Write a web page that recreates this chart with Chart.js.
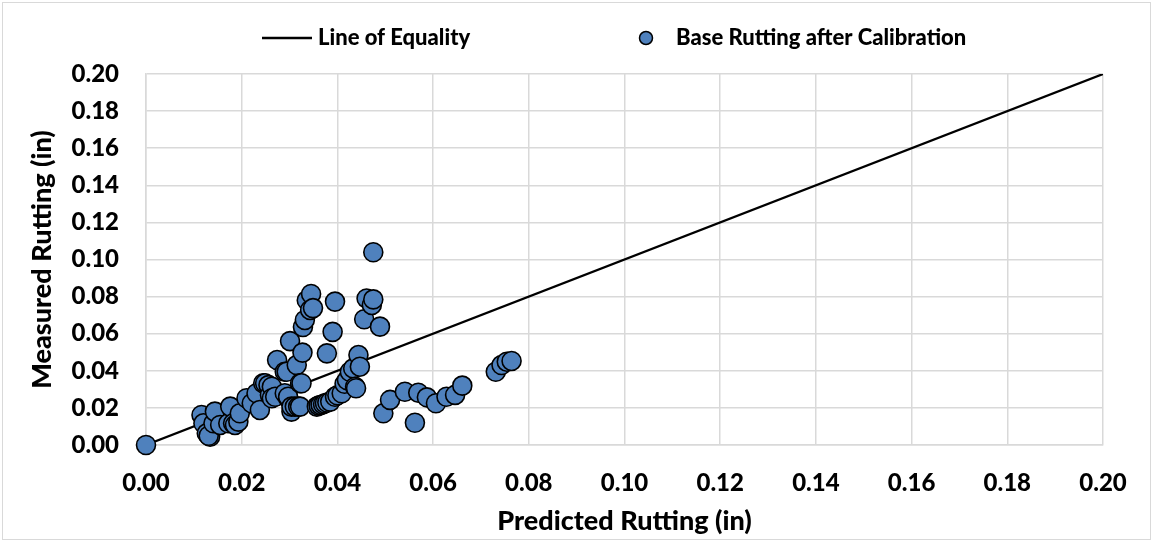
<!DOCTYPE html>
<html>
<head>
<meta charset="utf-8">
<script src="https://cdn.jsdelivr.net/npm/chart.js@4.4.1/dist/chart.umd.min.js"></script>
<style>
  html, body { margin: 0; padding: 0; background: #fff; }
  #wrap { width: 1153px; height: 541px; position: relative; }
</style>
</head>
<body>
<div id="wrap"><canvas id="ruttingChart"></canvas></div>
<script>
// Predicted vs measured base rutting (in)
const predicted = [
  0.0000, 0.0116, 0.0120, 0.0127, 0.0134, 0.0131, 0.0141, 0.0144, 0.0155, 0.0172,
  0.0176, 0.0182, 0.0186, 0.0193, 0.0196, 0.0210, 0.0221, 0.0231, 0.0238, 0.0245,
  0.0249, 0.0256, 0.0259, 0.0263, 0.0263, 0.0270, 0.0274, 0.0290, 0.0290, 0.0294,
  0.0297, 0.0297, 0.0301, 0.0304, 0.0304, 0.0311, 0.0315, 0.0318, 0.0322, 0.0322,
  0.0325, 0.0327, 0.0328, 0.0332, 0.0336, 0.0343, 0.0345, 0.0349, 0.0357, 0.0361,
  0.0365, 0.0370, 0.0374, 0.0379, 0.0378, 0.0385, 0.0390, 0.0395, 0.0395, 0.0400,
  0.0409, 0.0415, 0.0420, 0.0426, 0.0433, 0.0437, 0.0439, 0.0444, 0.0447, 0.0456,
  0.0461, 0.0472, 0.0475, 0.0475, 0.0489, 0.0496, 0.0510, 0.0541, 0.0562, 0.0569,
  0.0587, 0.0606, 0.0628, 0.0646, 0.0661, 0.0731, 0.0743, 0.0754, 0.0764,
];
const measured = [
  0.0000, 0.0162, 0.0117, 0.0063, 0.0045, 0.0050, 0.0117, 0.0180, 0.0108, 0.0117,
  0.0207, 0.0117, 0.0108, 0.0126, 0.0171, 0.0252, 0.0225, 0.0279, 0.0189, 0.0333,
  0.0333, 0.0323, 0.0270, 0.0314, 0.0252, 0.0260, 0.0458, 0.0279, 0.0395, 0.0395,
  0.0252, 0.0260, 0.0560, 0.0180, 0.0207, 0.0207, 0.0431, 0.0207, 0.0207, 0.0333,
  0.0333, 0.0498, 0.0636, 0.0674, 0.0780, 0.0728, 0.0814, 0.0738, 0.0207, 0.0212,
  0.0216, 0.0220, 0.0225, 0.0229, 0.0494, 0.0234, 0.0610, 0.0773, 0.0260, 0.0268,
  0.0279, 0.0330, 0.0350, 0.0395, 0.0413, 0.0314, 0.0306, 0.0485, 0.0422, 0.0678,
  0.0790, 0.0755, 0.0785, 0.1039, 0.0638, 0.0171, 0.0243, 0.0287, 0.0120, 0.0282,
  0.0257, 0.0225, 0.0260, 0.0270, 0.0320, 0.0395, 0.0431, 0.0449, 0.0453,
];
const equalityLine = [0, 0.2];
const axisTicks = [0, 0.02, 0.04, 0.06, 0.08, 0.10, 0.12, 0.14, 0.16, 0.18, 0.20];

const FONT = "Lato, 'Open Sans', sans-serif";
const WEIGHT = "900";
const BLUE = "#4f81bd";
const GRID = "#d9d9d9";

const scatterPoints = predicted.map((p, i) => ({ x: p, y: measured[i] }));
const linePoints = equalityLine.map((v) => ({ x: v, y: v }));

// legend row + chart frame
const legendAndFrame = {
  id: "legendAndFrame",
  afterDraw(chart) {
    const ctx = chart.ctx;
    ctx.save();
    ctx.strokeStyle = GRID;
    ctx.lineWidth = 1;
    ctx.strokeRect(2.5, 2.5, chart.width - 5, chart.height - 4);

    const y = 38;
    ctx.strokeStyle = "#000";
    ctx.lineWidth = 2.5;
    ctx.beginPath();
    ctx.moveTo(262, y);
    ctx.lineTo(312, y);
    ctx.stroke();

    ctx.beginPath();
    ctx.arc(646, y, 6.5, 0, Math.PI * 2);
    ctx.fillStyle = BLUE;
    ctx.fill();
    ctx.lineWidth = 1.5;
    ctx.stroke();

    ctx.fillStyle = "#000";
    ctx.font = WEIGHT + " 22px " + FONT;
    ctx.textBaseline = "middle";
    ctx.textAlign = "left";
    ctx.fillText("Line of Equality", 318, y);
    ctx.fillText("Base Rutting after Calibration", 676, y);
    ctx.restore();
  },
};

document.addEventListener("DOMContentLoaded", function () {
  const ctx = document.getElementById("ruttingChart").getContext("2d");

  new Chart(ctx, {
    type: "scatter",
    data: {
      datasets: [
        {
          label: "Base Rutting after Calibration",
          data: scatterPoints,
          backgroundColor: BLUE,
          borderColor: "#000",
          borderWidth: 1.6,
          pointRadius: 9.5,
          pointHoverRadius: 9.5,
          clip: false,
        },
        {
          type: "line",
          label: "Line of Equality",
          data: linePoints,
          borderColor: "#000",
          borderWidth: 2.2,
          pointRadius: 0,
          fill: false,
        },
      ],
    },
    options: {
      responsive: true,
      maintainAspectRatio: false,
      animation: false,
      events: [],
      layout: {
        padding: { left: 10, right: 50, top: 74, bottom: 0 },
      },
      plugins: {
        legend: { display: false },
        tooltip: { enabled: false },
      },
      scales: {
        x: {
          type: "linear",
          min: 0,
          max: 0.2,
          afterBuildTicks: (scale) => {
            scale.ticks = axisTicks.map((v) => ({ value: v }));
          },
          afterFit: (scale) => {
            scale.height = 96;
          },
          grid: { color: GRID, lineWidth: 1.5, drawTicks: false },
          border: { color: GRID, width: 1.5 },
          ticks: {
            padding: 24,
            color: "#000",
            font: { family: FONT, size: 24, weight: WEIGHT },
            callback: (v) => Number(v).toFixed(2),
          },
          title: {
            display: true,
            text: "Predicted Rutting (in)",
            color: "#000",
            font: { family: FONT, size: 27, weight: WEIGHT },
            padding: { top: 0, bottom: 4 },
          },
        },
        y: {
          type: "linear",
          min: 0,
          max: 0.2,
          afterBuildTicks: (scale) => {
            scale.ticks = axisTicks.map((v) => ({ value: v }));
          },
          afterFit: (scale) => {
            scale.width = 136;
          },
          grid: { color: GRID, lineWidth: 1.5, drawTicks: false },
          border: { color: GRID, width: 1.5 },
          ticks: {
            padding: 27,
            color: "#000",
            font: { family: FONT, size: 24, weight: WEIGHT },
            callback: (v) => Number(v).toFixed(2),
          },
          title: {
            display: true,
            text: "Measured Rutting (in)",
            color: "#000",
            font: { family: FONT, size: 27, weight: WEIGHT },
            padding: { top: 16, bottom: 0 },
          },
        },
      },
    },
    plugins: [legendAndFrame],
  });
});
</script>
</body>
</html>
